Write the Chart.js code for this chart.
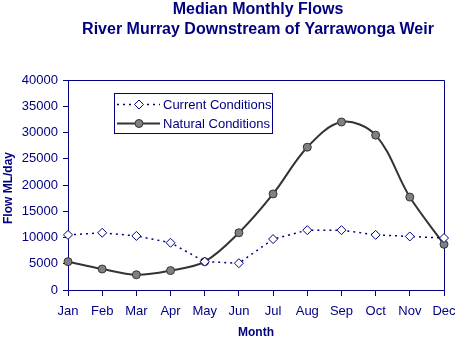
<!DOCTYPE html>
<html>
<head>
<meta charset="utf-8">
<script src="https://cdn.jsdelivr.net/npm/chart.js@4"></script>
<style>
  html, body { margin: 0; padding: 0; background: #fff; }
  #wrap { width: 459px; height: 342px; }
</style>
</head>
<body>
<div id="wrap"><canvas id="c" width="459" height="342"></canvas></div>
<script>
const months = ['Jan','Feb','Mar','Apr','May','Jun','Jul','Aug','Sep','Oct','Nov','Dec'];
const currentFlow = [10500, 10900, 10300, 9000, 5400, 5100, 9700, 11400, 11400, 10500, 10200, 9900];
const naturalFlow = [5400, 4000, 2900, 3700, 5400, 10900, 18300, 27200, 32000, 29500, 17700, 8700];
const seriesNames = ['Current Conditions', 'Natural Conditions'];
const titleLines = ['Median Monthly Flows', 'River Murray Downstream of Yarrawonga Weir'];
const xTitle = 'Month';
const yTitle = 'Flow ML/day';

const NAVY = '#000080';
const FONT = 'Arial, "Liberation Sans", sans-serif';

// Titles, axis titles, plot border and boxed legend drawn on the canvas
const decorations = {
  id: 'decorations',
  beforeDatasetsDraw(chart) {
    const ctx = chart.ctx;
    const a = chart.chartArea;
    ctx.save();
    ctx.strokeStyle = NAVY;
    ctx.lineWidth = 1;
    ctx.beginPath();
    ctx.moveTo(Math.round(a.left) + 0.5, Math.round(a.top) + 0.5);
    ctx.lineTo(Math.round(a.right) + 0.5, Math.round(a.top) + 0.5);
    ctx.lineTo(Math.round(a.right) + 0.5, Math.round(a.bottom) + 0.5);
    ctx.stroke();
    ctx.restore();
  },
  afterDraw(chart) {
    const ctx = chart.ctx;
    ctx.save();
    ctx.fillStyle = NAVY;
    ctx.textAlign = 'center';
    ctx.textBaseline = 'middle';
    ctx.font = 'bold 16px ' + FONT;
    ctx.fillText(titleLines[0], 258, 10);
    ctx.fillText(titleLines[1], 258, 30);

    ctx.font = 'bold 12px ' + FONT;
    ctx.fillText(xTitle, 256, 333);
    ctx.save();
    ctx.translate(9, 188);
    ctx.rotate(-Math.PI / 2);
    ctx.fillText(yTitle, 0, 0);
    ctx.restore();

    // legend box
    const lx = 114, ly = 93, lw = 158, lh = 40;
    ctx.fillStyle = '#fff';
    ctx.fillRect(lx, ly, lw, lh);
    ctx.strokeStyle = NAVY;
    ctx.lineWidth = 1;
    ctx.strokeRect(lx + 0.5, ly + 0.5, lw, lh);
    const rows = [104, 123];
    chart.data.datasets.forEach((ds, i) => {
      const y = rows[i] + 0.5;
      ctx.save();
      ctx.strokeStyle = ds.borderColor;
      ctx.lineWidth = ds.borderWidth;
      ctx.setLineDash(ds.borderDash || []);
      ctx.beginPath();
      ctx.moveTo(117, y);
      ctx.lineTo(160, y);
      ctx.stroke();
      ctx.restore();
      ctx.save();
      ctx.fillStyle = ds.pointBackgroundColor;
      ctx.strokeStyle = ds.pointBorderColor;
      ctx.lineWidth = ds.pointBorderWidth;
      ctx.beginPath();
      const r = ds.pointRadius;
      if (ds.pointStyle === 'circle') {
        ctx.arc(139, y, r, 0, Math.PI * 2);
      } else {
        ctx.moveTo(139, y - r);
        ctx.lineTo(139 + r, y);
        ctx.lineTo(139, y + r);
        ctx.lineTo(139 - r, y);
        ctx.closePath();
      }
      ctx.fill();
      ctx.stroke();
      ctx.restore();
      ctx.fillStyle = NAVY;
      ctx.font = '13px ' + FONT;
      ctx.textAlign = 'left';
      ctx.textBaseline = 'middle';
      ctx.fillText(ds.label, 163, y + 0.5);
    });
    ctx.restore();
  }
};

new Chart(document.getElementById('c'), {
  type: 'line',
  data: {
    labels: months,
    datasets: [
      {
        label: seriesNames[0],
        data: currentFlow,
        borderColor: NAVY,
        borderWidth: 1.5,
        borderDash: [2, 4],
        tension: 0,
        pointStyle: 'rectRot',
        pointRadius: 4.5,
        pointBackgroundColor: '#fff',
        pointBorderColor: NAVY,
        pointBorderWidth: 1,
        clip: false,
        fill: false
      },
      {
        label: seriesNames[1],
        data: naturalFlow,
        borderColor: '#333333',
        borderWidth: 2,
        tension: 0.35,
        pointStyle: 'circle',
        pointRadius: 4,
        pointBackgroundColor: '#808080',
        pointBorderColor: '#333333',
        pointBorderWidth: 1,
        clip: false,
        fill: false
      }
    ]
  },
  options: {
    responsive: false,
    animation: false,
    events: [],
    layout: { padding: { left: 0, top: 80, right: 15, bottom: 0 } },
    plugins: {
      legend: { display: false },
      title: { display: false },
      tooltip: { enabled: false }
    },
    scales: {
      x: {
        type: 'category',
        offset: false,
        afterFit(s) { s.height = 52; s.paddingLeft = 0; s.paddingRight = 0; },
        border: { color: NAVY, width: 1 },
        grid: { display: true, drawOnChartArea: false, drawTicks: true, tickLength: 6, color: NAVY },
        ticks: { color: NAVY, font: { family: FONT, size: 13 }, padding: 8, maxRotation: 0, autoSkip: false }
      },
      y: {
        min: 0,
        max: 40000,
        afterFit(s) { s.width = 68; s.paddingTop = 0; s.paddingBottom = 0; },
        border: { color: NAVY, width: 1 },
        grid: { display: true, drawOnChartArea: false, drawTicks: true, tickLength: 5, color: NAVY },
        ticks: {
          stepSize: 5000,
          color: NAVY,
          font: { family: FONT, size: 13 },
          padding: 5,
          callback: (v) => String(v)
        }
      }
    }
  },
  plugins: [decorations]
});
</script>
</body>
</html>
